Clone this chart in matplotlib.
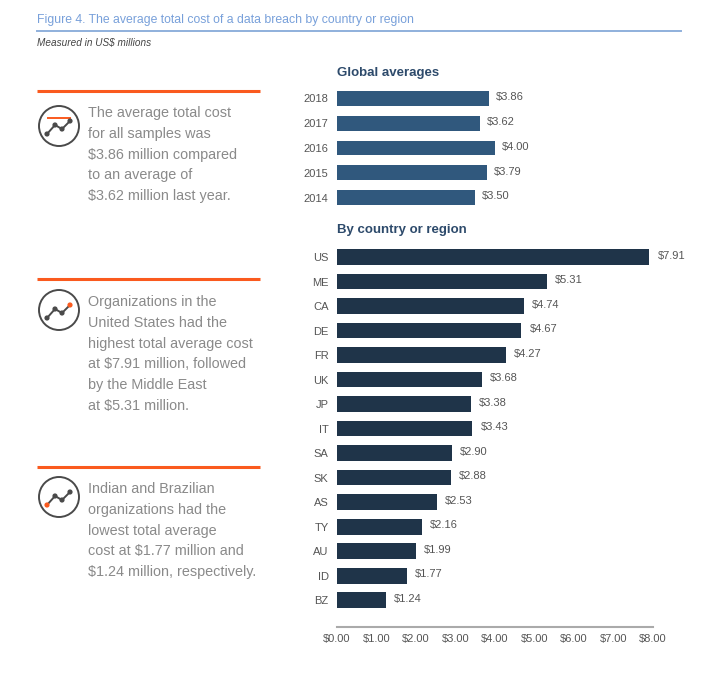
import matplotlib
matplotlib.use("Agg")
import matplotlib.pyplot as plt
from matplotlib.patches import Circle

years = ["2018", "2017", "2016", "2015", "2014"]
global_avg = [3.86, 3.62, 4.00, 3.79, 3.50]

countries = ["US", "ME", "CA", "DE", "FR", "UK", "JP", "IT", "SA", "SK",
             "AS", "TY", "AU", "ID", "BZ"]
country_cost = [7.91, 5.31, 4.74, 4.67, 4.27, 3.68, 3.38, 3.43, 2.90, 2.88,
                2.53, 2.16, 1.99, 1.77, 1.24]
x_ticks = [0, 1, 2, 3, 4, 5, 6, 7, 8]

notes = [
    "The average total cost\nfor all samples was\n$3.86 million compared\nto an average of\n$3.62 million last year.",
    "Organizations in the\nUnited States had the\nhighest total average cost\nat $7.91 million, followed\nby the Middle East\nat $5.31 million.",
    "Indian and Brazilian\norganizations had the\nlowest total average\ncost at $1.77 million and\n$1.24 million, respectively.",
]

plt.rcParams['font.family'] = ['Liberation Sans', 'DejaVu Sans']

W, H = 704, 681
fig = plt.figure(figsize=(W / 100, H / 100), dpi=100)
fig.patch.set_facecolor("white")

def rect(left, top, right, bottom):
    return [left / W, 1 - bottom / H, (right - left) / W, (bottom - top) / H]

GLOBAL_C = "#30587d"
COUNTRY_C = "#1f3449"
LABEL_C = "#555555"
TITLE_C = "#2d4a6b"
ORANGE = "#fa5a1e"

ov = fig.add_axes([0, 0, 1, 1])
ov.set_xlim(0, W)
ov.set_ylim(H, 0)
ov.axis("off")

ov.text(37, 20, "Figure 4. The average total cost of a data breach by country or region",
        color="#78a0da", fontsize=8.8, va="center", ha="left")
ov.plot([37, 681], [31, 31], color="#8fb0dc", lw=1.4)
ov.text(37, 43, "Measured in US$ millions", color="#444444", fontsize=7.2,
        style="italic", va="center", ha="left")

ov.text(337, 73, "Global averages", color=TITLE_C, fontsize=9.5,
        fontweight="bold", va="center", ha="left")
ov.text(337, 230, "By country or region", color=TITLE_C, fontsize=9.5,
        fontweight="bold", va="center", ha="left")

blocks = [(91, 126, 113, "line"), (279, 310, 302, "last"), (467, 497, 489, "first")]
for (ly, cy, ty, kind), note in zip(blocks, notes):
    ov.plot([37, 260], [ly, ly], color=ORANGE, lw=2.2, solid_capstyle="butt")
    ov.add_patch(Circle((59, cy), 20, fill=False, ec="#4a4a4a", lw=1.4))
    px = [59 - 12, 59 - 4, 59 + 3, 59 + 11]
    py = [cy + 8, cy - 1, cy + 3, cy - 5]
    ov.plot(px, py, color="#4a4a4a", lw=1.4)
    cols = ["#4a4a4a"] * 4
    if kind == "last":
        cols[3] = ORANGE
    elif kind == "first":
        cols[0] = ORANGE
    ov.scatter(px, py, s=14, c=cols, zorder=5, linewidths=0)
    if kind == "line":
        ov.plot([59 - 11, 59 + 11], [cy - 8, cy - 8], color=ORANGE, lw=1.4)
    ov.text(88, ty - 7, note, color="#8a8a8a", fontsize=10.4, va="top",
            ha="left", linespacing=1.62)

gax = fig.add_axes(rect(337, 86, 653, 86 + 5 * 24.8))
gy = list(range(len(years)))
gax.barh(gy, global_avg, height=0.6, color=GLOBAL_C)
gax.set_xlim(0, 8)
gax.set_ylim(len(years) - 0.5, -0.5)
gax.set_yticks(gy)
gax.set_yticklabels(years)
gax.set_xticks([])
for s in gax.spines.values():
    s.set_visible(False)
gax.tick_params(axis="y", length=0, pad=6, labelsize=8, labelcolor=LABEL_C)
for yv, v in zip(gy, global_avg):
    gax.text(v + 0.17, yv - 0.05, f"${v:.2f}", va="center", ha="left",
             fontsize=8, color=LABEL_C)

cax = fig.add_axes(rect(337, 244.75, 653, 627))
cy_ = list(range(len(countries)))
cax.barh(cy_, country_cost, height=0.65, color=COUNTRY_C)
cax.set_xlim(0, 8)
cax.set_ylim(15.1, -0.5)
cax.set_yticks(cy_)
cax.set_yticklabels(countries)
cax.set_xticks(x_ticks)
cax.set_xticklabels([f"${t:.2f}" for t in x_ticks])
for k in ["top", "right", "left"]:
    cax.spines[k].set_visible(False)
cax.spines["bottom"].set_color("#aaaaaa")
cax.spines["bottom"].set_linewidth(1.5)
cax.tick_params(axis="y", length=0, pad=6, labelsize=8, labelcolor=LABEL_C)
cax.tick_params(axis="x", length=0, pad=5, labelsize=8, labelcolor=LABEL_C)
for yv, v in zip(cy_, country_cost):
    cax.text(v + 0.2, yv - 0.05, f"${v:.2f}", va="center", ha="left",
             fontsize=8, color=LABEL_C)

fig.savefig("out.png", dpi=100, facecolor="white")
